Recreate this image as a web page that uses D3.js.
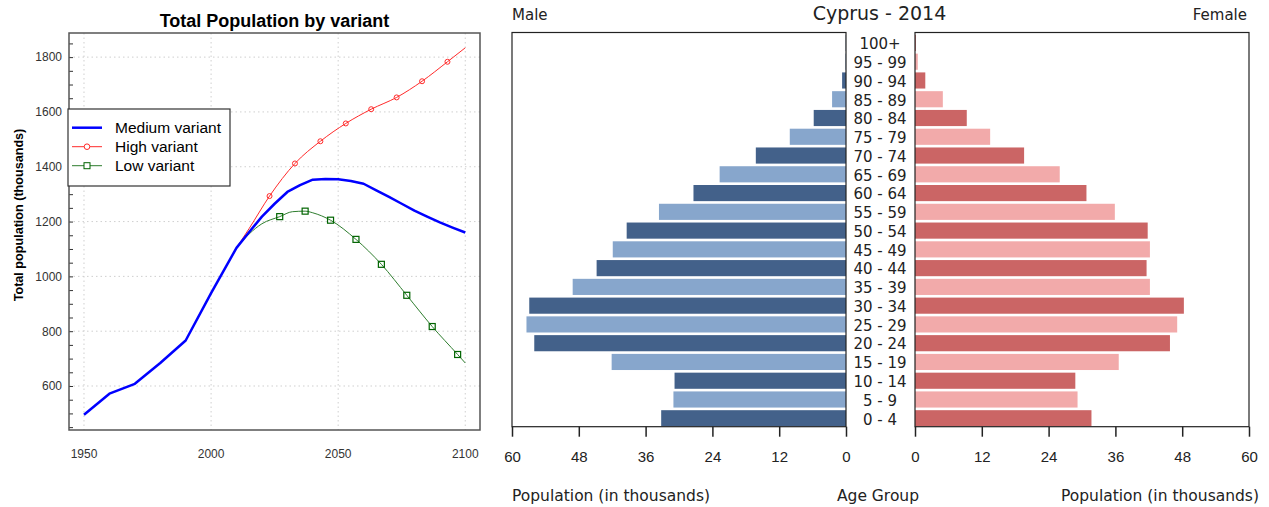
<!DOCTYPE html>
<html>
<head>
<meta charset="utf-8">
<script src="https://cdn.jsdelivr.net/npm/d3@7"></script>
<style>
  body { margin: 0; background: #fff; }
  svg { display: block; }
</style>
</head>
<body>
<div id="chart"></div>
<script>
// ---- left chart data (thousands) ----
const mediumYears = [1950, 1960, 1970, 1980, 1990, 2000, 2010, 2015, 2020, 2025, 2030, 2035, 2040, 2045, 2050, 2055, 2060, 2065, 2070, 2075, 2080, 2085, 2090, 2095, 2100];
const mediumValues = [495, 572, 608, 684, 766, 939, 1104, 1162, 1218, 1265, 1308, 1333, 1353, 1355, 1354, 1348, 1338, 1314, 1290, 1265, 1240, 1218, 1197, 1178, 1160];

const highYears = [2010, 2015, 2023, 2033, 2043, 2053, 2063, 2073, 2083, 2093, 2100];
const highValues = [1104, 1175, 1293, 1412, 1493, 1558, 1610, 1653, 1712, 1783, 1834];
const highMarked = [2023, 2033, 2043, 2053, 2063, 2073, 2083, 2093];

const lowYears = [2010, 2015, 2020, 2027, 2032, 2037, 2040, 2047, 2057, 2067, 2077, 2087, 2097, 2100];
const lowValues = [1104, 1155, 1192, 1218, 1236, 1238, 1232, 1205, 1135, 1044, 931, 817, 715, 684];
const lowMarked = [2027, 2037, 2047, 2057, 2067, 2077, 2087, 2097];

const yearTicks = [1950, 2000, 2050, 2100];
const popTicks = [600, 800, 1000, 1200, 1400, 1600, 1800];

// ---- pyramid data (thousands) ----
const ageGroups = ["0 - 4", "5 - 9", "10 - 14", "15 - 19", "20 - 24", "25 - 29", "30 - 34", "35 - 39", "40 - 44", "45 - 49",
  "50 - 54", "55 - 59", "60 - 64", "65 - 69", "70 - 74", "75 - 79", "80 - 84", "85 - 89", "90 - 94", "95 - 99", "100+"];
const maleValues = [33.2, 31.0, 30.8, 42.1, 56.0, 57.4, 56.9, 49.1, 44.8, 41.9, 39.4, 33.6, 27.4, 22.7, 16.2, 10.1, 5.8, 2.5, 0.7, 0.1, 0.05];
const femaleValues = [31.7, 29.2, 28.8, 36.6, 45.8, 47.1, 48.3, 42.2, 41.6, 42.2, 41.8, 35.9, 30.8, 26.0, 19.6, 13.5, 9.3, 5.0, 1.85, 0.5, 0.15];
const pyramidTicks = [0, 12, 24, 36, 48, 60];

const svg = d3.select("#chart").append("svg")
  .attr("width", 1269)
  .attr("height", 507);

// ================= Left: Total population by variant =================
const L = { left: 69, right: 480, top: 33, bottom: 430 };

const x = d3.scaleLinear().domain([1944.1, 2105.8]).range([L.left, L.right]);
const y = d3.scaleLinear().domain([439.5, 1888]).range([L.bottom, L.top]);

const left = svg.append("g").style("font-family", "'Liberation Sans', Arial, sans-serif");

// grid
left.append("g")
  .selectAll("line.gy")
  .data(popTicks)
  .join("line")
  .attr("x1", L.left).attr("x2", L.right)
  .attr("y1", d => y(d)).attr("y2", d => y(d))
  .attr("stroke", "#cfcfcf").attr("stroke-dasharray", "1.5,3");

left.append("g")
  .selectAll("line.gx")
  .data(yearTicks)
  .join("line")
  .attr("x1", d => x(d)).attr("x2", d => x(d))
  .attr("y1", L.top).attr("y2", L.bottom)
  .attr("stroke", "#cfcfcf").attr("stroke-dasharray", "1.5,3");

// y axis with minor ticks every 50, labels every 200
const yAxis = d3.axisRight(y)
  .tickValues(d3.range(450, 1851, 50))
  .tickSize(4)
  .tickFormat(d => popTicks.includes(d) ? d : "");
left.append("g")
  .attr("transform", `translate(${L.left},0)`)
  .call(yAxis)
  .call(g => g.select(".domain").remove())
  .call(g => g.selectAll("line").attr("stroke", "#333"))
  .call(g => g.selectAll("text")
    .attr("x", -7)
    .attr("text-anchor", "end")
    .style("font-size", "12px")
    .attr("fill", "#333"));

// x labels
left.append("g")
  .selectAll("text")
  .data(yearTicks)
  .join("text")
  .attr("x", d => x(d))
  .attr("y", 458)
  .attr("text-anchor", "middle")
  .style("font-size", "12px")
  .attr("fill", "#333")
  .text(d => d);

// frame
left.append("rect")
  .attr("x", L.left).attr("y", L.top)
  .attr("width", L.right - L.left).attr("height", L.bottom - L.top)
  .attr("fill", "none").attr("stroke", "#555").attr("stroke-width", 1.5);

const line = d3.line().x(d => x(d[0])).y(d => y(d[1]));

left.append("path")
  .datum(d3.zip(lowYears, lowValues))
  .attr("d", line.curve(d3.curveMonotoneX))
  .attr("fill", "none").attr("stroke", "#2e7d2e").attr("stroke-width", 1);

left.append("path")
  .datum(d3.zip(highYears, highValues))
  .attr("d", line.curve(d3.curveMonotoneX))
  .attr("fill", "none").attr("stroke", "#ff2a2a").attr("stroke-width", 1);

left.append("path")
  .datum(d3.zip(mediumYears, mediumValues))
  .attr("d", line.curve(d3.curveLinear))
  .attr("fill", "none").attr("stroke", "#0000ff").attr("stroke-width", 2.5)
  .attr("stroke-linejoin", "round");

left.append("g")
  .selectAll("circle")
  .data(d3.zip(highYears, highValues).filter(d => highMarked.includes(d[0])))
  .join("circle")
  .attr("cx", d => x(d[0])).attr("cy", d => y(d[1]))
  .attr("r", 2.5)
  .attr("fill", "none").attr("stroke", "#ff2a2a").attr("stroke-width", 1);

left.append("g")
  .selectAll("rect")
  .data(d3.zip(lowYears, lowValues).filter(d => lowMarked.includes(d[0])))
  .join("rect")
  .attr("x", d => x(d[0]) - 3).attr("y", d => y(d[1]) - 3)
  .attr("width", 6).attr("height", 6)
  .attr("fill", "none").attr("stroke", "#006400").attr("stroke-width", 1.2);

// title + y label
left.append("text")
  .attr("x", 274.5).attr("y", 27)
  .attr("text-anchor", "middle")
  .style("font-size", "18px").style("font-weight", "bold")
  .text("Total Population by variant");

left.append("text")
  .attr("transform", "translate(23,215) rotate(-90)")
  .attr("text-anchor", "middle")
  .style("font-size", "12.6px").style("font-weight", "bold")
  .text("Total population (thousands)");

// legend
const legend = left.append("g");
legend.append("rect")
  .attr("x", 68).attr("y", 109)
  .attr("width", 162).attr("height", 77)
  .attr("fill", "#fff").attr("stroke", "#333").attr("stroke-width", 1.2);

const legendItems = [
  { name: "Medium variant", color: "#0000ff", width: 2.5, mark: null },
  { name: "High variant", color: "#ff2a2a", width: 1, mark: "circle" },
  { name: "Low variant", color: "#2e7d2e", width: 1, mark: "square" }
];
legendItems.forEach((it, i) => {
  const cy = 127.7 + i * 19;
  legend.append("line")
    .attr("x1", 72).attr("x2", 102).attr("y1", cy).attr("y2", cy)
    .attr("stroke", it.color).attr("stroke-width", it.width);
  if (it.mark === "circle") {
    legend.append("circle").attr("cx", 87).attr("cy", cy).attr("r", 2.8)
      .attr("fill", "#fff").attr("stroke", it.color);
  } else if (it.mark === "square") {
    legend.append("rect").attr("x", 84).attr("y", cy - 3).attr("width", 6).attr("height", 6)
      .attr("fill", "#fff").attr("stroke", "#006400");
  }
  legend.append("text")
    .attr("x", 115).attr("y", cy + 5.5)
    .style("font-size", "15.5px")
    .text(it.name);
});

// ================= Right: population pyramid =================
const P = { top: 32.5, bottom: 426.7, mLeft: 512, mRight: 846, fLeft: 915, fRight: 1249 };
const right = svg.append("g").style("font-family", "'DejaVu Sans', Verdana, sans-serif").attr("fill", "#222");

const yBand = d3.scaleBand()
  .domain(ageGroups)
  .range([P.bottom, 34.5])
  .paddingInner(0.14)
  .paddingOuter(0.02);

const xm = d3.scaleLinear().domain([0, 60]).range([P.mRight, P.mLeft]);
const xf = d3.scaleLinear().domain([0, 60]).range([P.fLeft, P.fRight]);

const maleColors = ["#43618a", "#87a6cc"];
const femaleColors = ["#cb6565", "#f2aaaa"];

right.append("g")
  .selectAll("rect")
  .data(ageGroups)
  .join("rect")
  .attr("x", (d, i) => xm(maleValues[i]))
  .attr("y", d => yBand(d))
  .attr("width", (d, i) => P.mRight - xm(maleValues[i]))
  .attr("height", yBand.bandwidth())
  .attr("fill", (d, i) => maleColors[i % 2]);

right.append("g")
  .selectAll("rect")
  .data(ageGroups)
  .join("rect")
  .attr("x", P.fLeft)
  .attr("y", d => yBand(d))
  .attr("width", (d, i) => xf(femaleValues[i]) - P.fLeft)
  .attr("height", yBand.bandwidth())
  .attr("fill", (d, i) => femaleColors[i % 2]);

// frames
[[P.mLeft, P.mRight], [P.fLeft, P.fRight]].forEach(([a, b]) => {
  right.append("rect")
    .attr("x", a).attr("y", P.top)
    .attr("width", b - a).attr("height", P.bottom - P.top)
    .attr("fill", "none").attr("stroke", "#222").attr("stroke-width", 1.2);
});

// axes
const styleAxis = g => {
  g.select(".domain").remove();
  g.selectAll("line").attr("stroke", "#222").attr("stroke-width", 1.5);
  g.selectAll("text").style("font-size", "15px").attr("fill", "#222").attr("dy", "0.75em").attr("y", 24);
};
right.append("g")
  .attr("transform", `translate(0,${P.bottom})`)
  .call(d3.axisBottom(xm).tickValues(pyramidTicks).tickSize(10).tickFormat(d3.format("d")))
  .call(styleAxis);
right.append("g")
  .attr("transform", `translate(0,${P.bottom})`)
  .call(d3.axisBottom(xf).tickValues(pyramidTicks).tickSize(10).tickFormat(d3.format("d")))
  .call(styleAxis);

// age labels
right.append("g")
  .selectAll("text")
  .data(ageGroups)
  .join("text")
  .attr("x", 880)
  .attr("y", d => yBand(d) + yBand.bandwidth() / 2)
  .attr("dy", "0.42em")
  .attr("text-anchor", "middle")
  .style("font-size", "15px")
  .text(d => d);

// titles
right.append("text")
  .attr("x", 879.5).attr("y", 20)
  .attr("text-anchor", "middle")
  .style("font-size", "19px")
  .text("Cyprus - 2014");
right.append("text")
  .attr("x", 512).attr("y", 20)
  .style("font-size", "15px")
  .text("Male");
right.append("text")
  .attr("x", 1247).attr("y", 20)
  .attr("text-anchor", "end")
  .style("font-size", "15px")
  .text("Female");

right.append("text")
  .attr("x", 512).attr("y", 501)
  .style("font-size", "15.5px")
  .text("Population (in thousands)");
right.append("text")
  .attr("x", 878).attr("y", 501)
  .attr("text-anchor", "middle")
  .style("font-size", "15.5px")
  .text("Age Group");
right.append("text")
  .attr("x", 1259).attr("y", 501)
  .attr("text-anchor", "end")
  .style("font-size", "15.5px")
  .text("Population (in thousands)");
</script>
</body>
</html>
